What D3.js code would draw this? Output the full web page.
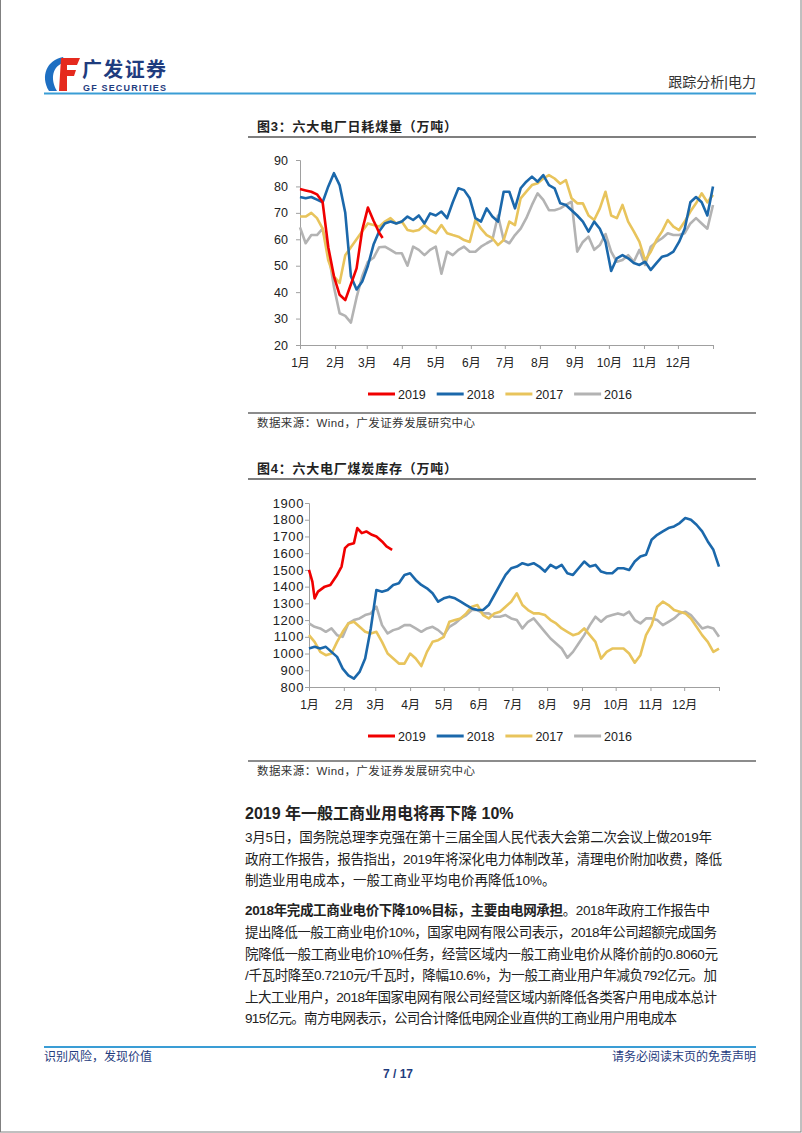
<!DOCTYPE html>
<html>
<head>
<meta charset="utf-8">
<script src="https://cdn.jsdelivr.net/npm/d3@7"></script>
<style>
body{margin:0;background:#fff}
svg{display:block}
</style>
</head>
<body>
<svg id="page" width="802" height="1133"></svg>
<script>
// month ticks on a day-of-year axis
var monthDays = [0,31,59,90,120,151,181,212,243,273,304,334,365]
var monthLabels = ["1月","2月","3月","4月","5月","6月","7月","8月","9月","10月","11月","12月"]
var gridDays = d3.range(0, 366, 5)

var years = ["2019","2018","2017","2016"]
var yearColors = ["#f00000","#1b68ab","#e8c45c","#b3b3b3"]

// 图3 日耗煤量（万吨）
var burnTicks = [20,30,40,50,60,70,80,90]
var burnDays2019 = [0,5,10,15,20,25,30,35,40,45,50,55,60,65,70,73]
var burn2019 = [79,78.5,78,77,74,57,46,39,37,43,49,63.5,72,67,62.5,60.5]
var burn2018 = [76,75.5,76,75,74,80,85,80.5,70,46,41,44,50,58,63,66,66.7,66,66.7,68.6,
  67.3,69,66,69.8,69,70.5,68,74,79.3,78.6,75.5,68,66.7,71.7,68.6,66.7,78,78,71.7,79.3,
  81.8,83.7,81.8,84.3,80.5,79.3,73.6,73,71,69,66.7,62.9,66.7,64,59,48,52.8,54,52.8,51,
  50.3,51.5,48.4,51,53.4,54,55.3,59,64,74,76,74,69,80]
var burn2017 = [68.6,68.6,70,68,64,52,46,43.5,54,57,60,63,66,65.4,64.8,66.7,68,66,66.7,63.5,
  63,63.5,65.4,63.5,62.3,65.4,62.3,61.6,61,59.7,59,67.3,64,61.6,60.4,57.8,59.7,66.7,65.4,75.5,
  78,80.5,81.2,83,84.3,83,81,82.4,75.5,73.6,73.6,69,67.3,71.7,78,69,68,73,66.7,63,
  59,52,55.3,59.7,63,67.3,64.8,63.5,66.7,70.5,73.6,77.4,74,76.8]
var burn2016 = [64.5,58.5,61.6,61.6,64,55,42,32,31,28.5,38,46,51.5,53,57,57.2,56,54.7,54.7,50,
  57.2,56,54,56,57.2,47,55.3,54,56,57.2,55.3,55.3,57.2,58.5,59.7,69,59.7,58.5,61.6,64,
  68,73,77.4,74.9,71,71,71.7,73,74.2,55.3,59,61,56,57.8,62,55.3,51.5,52.2,54,51.5,
  56,50.3,57.2,59,60.4,62.3,61.6,61.6,62.3,66,68,66,64,73]

// 图4 煤炭库存（万吨）
var stockTicks = [800,900,1000,1100,1200,1300,1400,1500,1600,1700,1800,1900]
var stockDays2019 = [0,3,5,8,14,19,25,29,32,35,40,43,47,51,56,60,65,69,74]
var stock2019 = [1500,1430,1330,1370,1400,1410,1470,1520,1630,1650,1660,1750,1720,1730,1710,1700,1670,1640,1620]
var stock2018 = [1030,1040,1030,1040,1010,980,910,870,850,890,970,1150,1380,1370,1380,1410,1420,1470,1480,1440,
  1410,1390,1360,1310,1330,1340,1330,1310,1290,1270,1260,1260,1290,1350,1410,1470,1510,1520,1540,1530,
  1540,1520,1490,1530,1510,1530,1480,1470,1510,1550,1520,1530,1490,1480,1480,1510,1510,1500,1550,1580,
  1590,1680,1710,1730,1750,1760,1780,1810,1800,1770,1730,1670,1620,1520]
var stock2017 = [1110,1070,1010,990,1000,1070,1130,1180,1190,1160,1130,1120,1130,1070,1000,970,940,940,1000,970,
  925,1010,1070,1080,1100,1190,1200,1210,1240,1280,1290,1230,1210,1240,1250,1280,1310,1360,1290,1260,
  1240,1240,1230,1200,1180,1150,1130,1110,1120,1150,1110,1070,970,1010,1030,1030,1030,1000,945,990,
  1110,1170,1280,1310,1290,1260,1250,1240,1210,1160,1110,1070,1010,1030]
var stock2016 = [1180,1160,1150,1130,1150,1110,1100,1180,1200,1210,1230,1240,1280,1170,1120,1140,1150,1170,1170,1150,
  1130,1150,1160,1140,1110,1160,1180,1210,1230,1260,1260,1240,1240,1220,1220,1230,1210,1200,1150,1190,
  1210,1170,1130,1090,1060,1030,975,1010,1060,1110,1170,1220,1190,1220,1230,1240,1230,1250,1200,1180,
  1210,1210,1200,1170,1190,1210,1240,1250,1230,1190,1150,1160,1150,1100]

var svg = d3.select("#page")
var cjk = "'Liberation Sans','Noto Sans CJK SC',sans-serif"
var navy = "#1f3c7e"

// page frame
svg.append("rect").attr("x",0.5).attr("y",-2).attr("width",800.5).attr("height",1134)
  .attr("fill","none").attr("stroke","#808080")

// header
var logo = svg.append("g")
logo.append("path").attr("d","M63 57 C47 60 40 76 49 91 L57 91 C50 79 52 66 65 62 Z").attr("fill","#1e6fc2")
logo.append("path").attr("d","M61 58 H80 L77 65 H67 V70 H76 L74 76 H67 V91 H59 Z").attr("fill","#e52a1e")
svg.append("text").attr("x",82).attr("y",77).text("广发证券")
  .attr("font-family","'Noto Sans CJK SC'").attr("font-weight","bold").attr("font-size",20)
  .attr("textLength",84).attr("fill",navy)
svg.append("text").attr("x",83).attr("y",91).text("GF SECURITIES")
  .attr("font-family","'Liberation Sans'").attr("font-weight","bold").attr("font-size",9)
  .attr("textLength",83).attr("fill",navy)
svg.append("text").attr("x",756).attr("y",87).attr("text-anchor","end").text("跟踪分析|电力")
  .attr("font-family",cjk).attr("font-size",14).attr("fill","#333")
svg.append("line").attr("x1",44).attr("x2",756).attr("y1",93.5).attr("y2",93.5)
  .attr("stroke","#3a9dd5").attr("stroke-width",2)

function drawChart(c){
  var g = svg.append("g")
  g.append("text").attr("x",257).attr("y",c.titleY).text(c.title)
    .attr("font-family",cjk).attr("font-weight","bold").attr("font-size",13)
    .attr("textLength",200).attr("lengthAdjust","spacing").attr("fill","#222")
  g.append("line").attr("x1",248).attr("x2",756).attr("y1",c.titleY+6).attr("y2",c.titleY+6)
    .attr("stroke","#555").attr("stroke-width",1.5)

  var x = d3.scaleLinear().domain([0,365]).range([c.left,c.right])
  var y = d3.scaleLinear().domain(c.domain).range([c.bottom,c.top])

  var ax = g.append("g").attr("transform","translate(0,"+c.bottom+")")
    .call(d3.axisBottom(x).tickValues(monthDays).tickSize(4).tickPadding(9)
      .tickFormat(function(d,i){ return monthLabels[i] || "" }))
  var ay = g.append("g").attr("transform","translate("+c.left+",0)")
    .call(d3.axisLeft(y).tickValues(c.ticks).tickSize(4).tickPadding(c.pad).tickFormat(d3.format("d")))
  ;[ax,ay].forEach(function(a){
    a.select(".domain").attr("stroke","#a0a0a0")
    a.selectAll(".tick line").attr("stroke","#a0a0a0")
    a.selectAll("text").attr("font-family",cjk).attr("font-size",12).attr("fill","#222")
  })
  ay.selectAll("text").attr("font-size",c.yFont).attr("letter-spacing",c.ySpace)

  var line = d3.line().x(function(d){ return x(d[0]) }).y(function(d){ return y(d[1]) })
  // draw 2016 first so 2019 sits on top
  for(var i=c.series.length-1;i>=0;i--){
    var s = c.series[i]
    g.append("path").datum(d3.zip(s.days,s.vals)).attr("d",line)
      .attr("fill","none").attr("stroke",yearColors[i]).attr("stroke-width",2.6)
      .attr("stroke-linejoin","round")
  }

  var leg = g.append("g").attr("transform","translate(0,"+c.legendY+")")
  years.forEach(function(yr,i){
    var lx = 368 + i*68.7
    leg.append("line").attr("x1",lx).attr("x2",lx+27).attr("stroke",yearColors[i]).attr("stroke-width",3)
    leg.append("text").attr("x",lx+30).attr("dy","0.36em").text(yr)
      .attr("font-family","'Liberation Sans'").attr("font-size",12.5).attr("fill","#222")
  })

  g.append("line").attr("x1",248).attr("x2",756).attr("y1",c.sourceY-14).attr("y2",c.sourceY-14)
    .attr("stroke","#666").attr("stroke-width",1.5)
  g.append("text").attr("x",257).attr("y",c.sourceY).text("数据来源：Wind，广发证券发展研究中心")
    .attr("font-family",cjk).attr("font-size",11.5).attr("fill","#333")
    .attr("textLength",218).attr("lengthAdjust","spacing")
}

drawChart({
  title:"图3：六大电厂日耗煤量（万吨）", titleY:131,
  left:300, right:713, top:160, bottom:345, domain:[20,90], ticks:burnTicks, pad:8,
  yFont:12.5, ySpace:0,
  legendY:394, sourceY:427,
  series:[{days:burnDays2019,vals:burn2019},{days:gridDays,vals:burn2018},
          {days:gridDays,vals:burn2017},{days:gridDays,vals:burn2016}]
})
drawChart({
  title:"图4：六大电厂煤炭库存（万吨）", titleY:473,
  left:309, right:719, top:503, bottom:687, domain:[800,1900], ticks:stockTicks, pad:1,
  yFont:13, ySpace:0.6,
  legendY:736, sourceY:775,
  series:[{days:stockDays2019,vals:stock2019},{days:gridDays,vals:stock2018},
          {days:gridDays,vals:stock2017},{days:gridDays,vals:stock2016}]
})

// body text
var body = svg.append("g").attr("font-family",cjk).attr("fill","#222")
body.append("text").attr("x",245).attr("y",819).attr("font-size",16).attr("font-weight","bold")
  .text("2019 年一般工商业用电将再下降 10%")

var para1 = [
  ["3月5日，国务院总理李克强在第十三届全国人民代表大会第二次会议上做2019年",467],
  ["政府工作报告，报告指出，2019年将深化电力体制改革，清理电价附加收费，降低",477],
  ["制造业用电成本，一般工商业平均电价再降低10%。",0]
]
para1.forEach(function(l,i){
  var t = body.append("text").attr("x",245).attr("y",842+i*21.5).attr("font-size",13.5).text(l[0])
  if(l[1]) t.attr("textLength",l[1]).attr("lengthAdjust","spacing")
})

var p2 = body.append("text").attr("x",245).attr("y",915).attr("font-size",13.5)
  .attr("textLength",465).attr("lengthAdjust","spacing")
p2.append("tspan").attr("font-weight","bold").text("2018年完成工商业电价下降10%目标，主要由电网承担")
p2.append("tspan").text("。2018年政府工作报告中")
var para2 = [
  ["提出降低一般工商业电价10%，国家电网有限公司表示，2018年公司超额完成国务",472],
  ["院降低一般工商业电价10%任务，经营区域内一般工商业电价从降价前的0.8060元",473],
  ["/千瓦时降至0.7210元/千瓦时，降幅10.6%，为一般工商业用户年减负792亿元。加",472],
  ["上大工业用户，2018年国家电网有限公司经营区域内新降低各类客户用电成本总计",472],
  ["915亿元。南方电网表示，公司合计降低电网企业直供的工商业用户用电成本",432]
]
para2.forEach(function(l,i){
  body.append("text").attr("x",245).attr("y",937+i*21.6).attr("font-size",13.5).text(l[0])
    .attr("textLength",l[1]).attr("lengthAdjust","spacing")
})

// footer
svg.append("line").attr("x1",44).attr("x2",756).attr("y1",1047).attr("y2",1047)
  .attr("stroke","#3a9dd5").attr("stroke-width",2)
svg.append("text").attr("x",44).attr("y",1061).text("识别风险，发现价值")
  .attr("font-family",cjk).attr("font-size",12).attr("fill",navy)
svg.append("text").attr("x",756).attr("y",1061).attr("text-anchor","end").text("请务必阅读末页的免责声明")
  .attr("font-family",cjk).attr("font-size",12).attr("fill",navy)
svg.append("text").attr("x",398).attr("y",1078).attr("text-anchor","middle").text("7 / 17")
  .attr("font-family","'Liberation Sans'").attr("font-weight","bold").attr("font-size",12).attr("fill",navy)
</script>
</body>
</html>
